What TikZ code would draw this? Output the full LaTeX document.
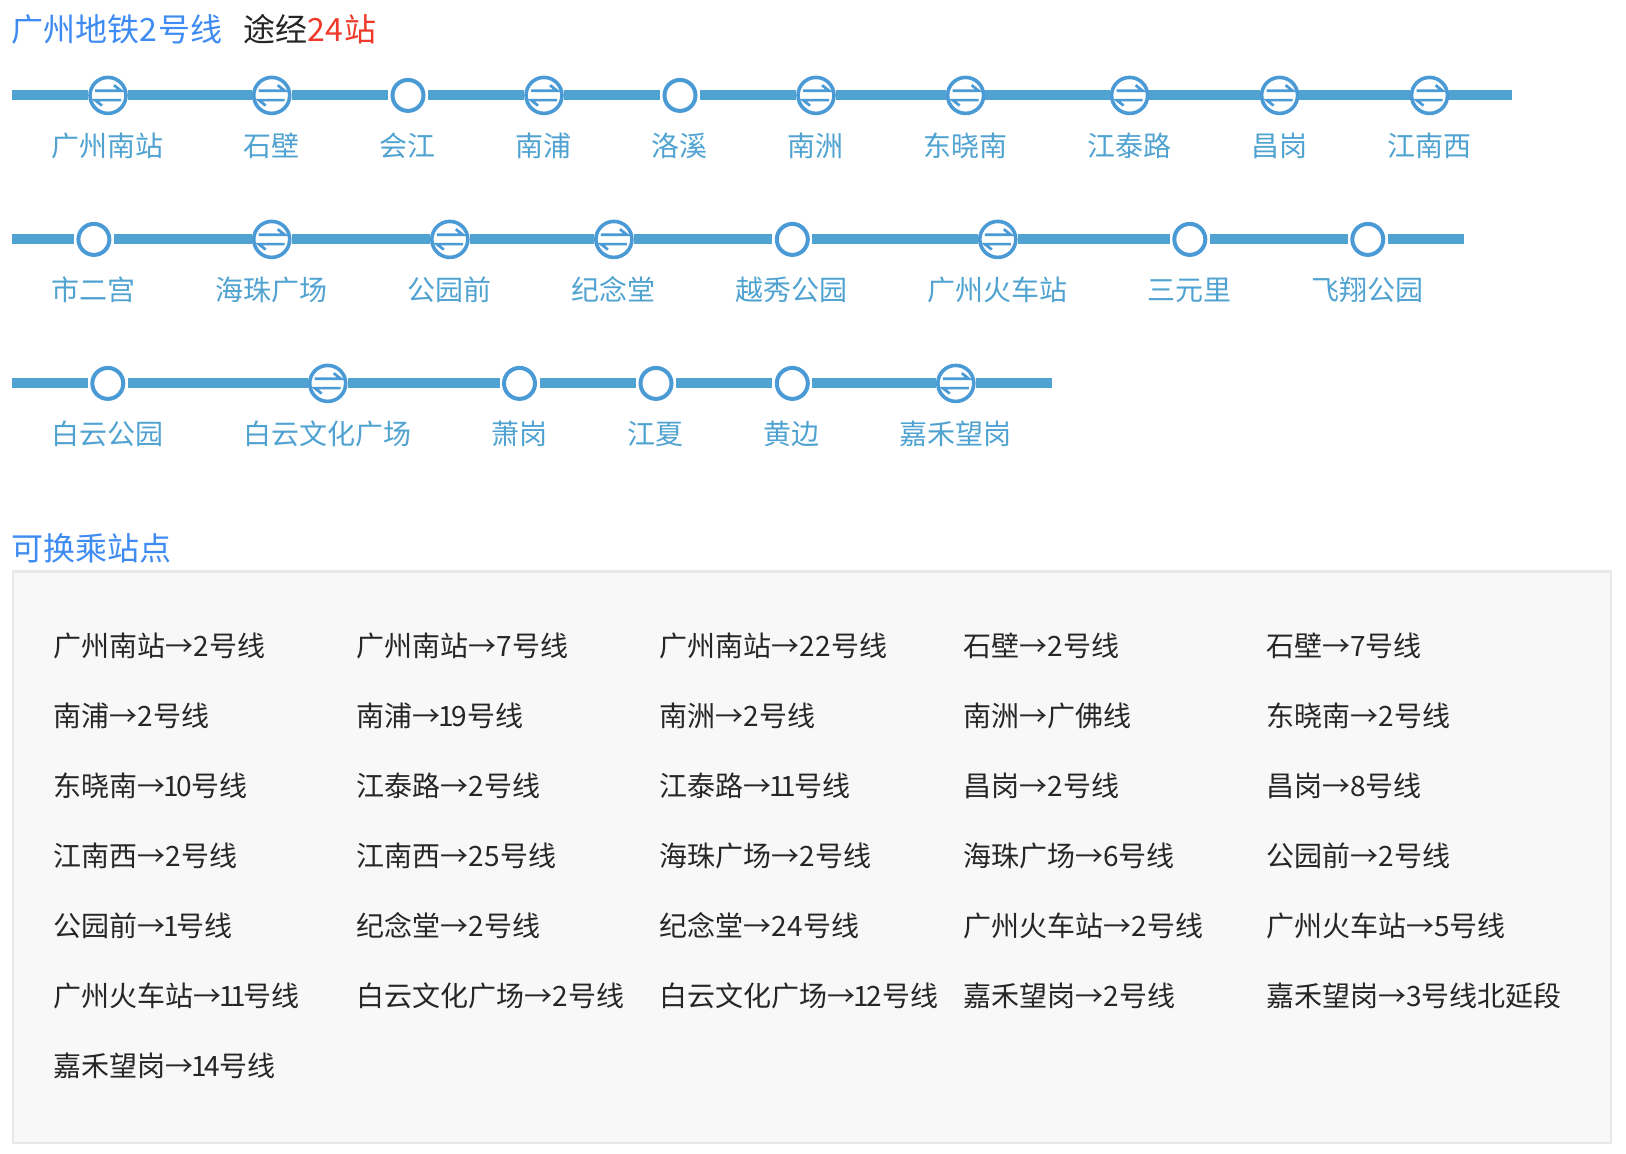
\documentclass[tikz,border=0pt]{standalone}
\usepackage{fontspec}
\setmainfont{Noto Sans CJK SC}
\definecolor{titleblue}{HTML}{3F8BF4}
\definecolor{alertred}{HTML}{EF3A2B}
\definecolor{inkdark}{HTML}{262626}
\definecolor{trackblue}{HTML}{50A3D1}
\definecolor{ringblue}{HTML}{4A9AD6}
\definecolor{panelfill}{HTML}{F8F8F8}
\definecolor{panelline}{HTML}{E8E8E8}
\newcommand\thinone{\kern-2.2pt 1\kern-2.2pt}
\tikzset{
  txt28/.style={inner sep=0pt,outer sep=0pt,text height=24.6pt,text depth=3.4pt,font=\fontsize{28}{28}\selectfont},
  headline/.style={inner sep=0pt,outer sep=0pt,anchor=west,text height=28.2pt,text depth=3.8pt,font=\fontsize{32}{32}\selectfont},
  stationlabel/.style={txt28,text=trackblue},
  changelabel/.style={txt28,text=inkdark,anchor=west},
  track/.style={draw=trackblue,line width=10pt,line cap=butt},
  plainstop/.style={circle,draw=ringblue,fill=white,line width=4pt,inner sep=0pt,minimum size=31pt,outer sep=4.5pt},
  changestop/.style={circle,draw=ringblue,fill=white,line width=3.6pt,inner sep=0pt,minimum size=36pt,outer sep=1.8pt,
    path picture={
      \draw[ringblue,line width=2.7pt,line join=miter]
        ([xshift=-13pt,yshift=4.7pt]path picture bounding box.center) -- ++(26pt,0pt) -- ++(-7pt,5.5pt)
        ([xshift=13pt,yshift=-4.7pt]path picture bounding box.center) -- ++(-26pt,0pt) -- ++(7pt,-5.5pt);
    }},
  panel/.style={draw=panelline,fill=panelfill,line width=2.5pt},
}
\begin{document}
\begin{tikzpicture}[x=1pt,y=-1pt]
\useasboundingbox (0,0) rectangle (1626,1154);
\fill[white] (0,0) rectangle (1626,1154);

\node[headline] (title) at (12,29) {\textcolor{titleblue}{广州地铁2\kern1pt 号线}};
\node[headline] (count) at (243,29) {\textcolor{inkdark}{途经}\textcolor{alertred}{2\kern1pt 4\kern1pt 站}};

% row 1
\coordinate (r1a) at (12,95.4);
\coordinate (r1b) at (1512,95.4);
\foreach \px/\lx/\nm/\kind [count=\i] in {108/107.5/广州南站/changestop,271.7/271.7/石壁/changestop,408/407.3/会江/plainstop,544/543.2/南浦/changestop,680/679/洛溪/plainstop,816/815.3/南洲/changestop,965.6/965.3/东晓南/changestop,1129.6/1129.3/江泰路/changestop,1279.6/1279.6/昌岗/changestop,1429.5/1429.3/江南西/changestop}{
  \node[\kind] (ra\i) at (\px,95.4) {};
  \node[stationlabel] (la\i) at (\lx,146) {\nm};
}
\draw[track] (r1a) -- (ra1);
\draw[track] (ra1) -- (ra2);
\draw[track] (ra2) -- (ra3);
\draw[track] (ra3) -- (ra4);
\draw[track] (ra4) -- (ra5);
\draw[track] (ra5) -- (ra6);
\draw[track] (ra6) -- (ra7);
\draw[track] (ra7) -- (ra8);
\draw[track] (ra8) -- (ra9);
\draw[track] (ra9) -- (ra10);
\draw[track] (ra10) -- (r1b);

% row 2
\coordinate (r2a) at (12,239.4);
\coordinate (r2b) at (1464,239.4);
\foreach \px/\lx/\nm/\kind [count=\i] in {93.9/93.6/市二宫/plainstop,271.7/271.4/海珠广场/changestop,449.8/449.5/公园前/changestop,613.9/613.7/纪念堂/changestop,792.3/791.5/越秀公园/plainstop,997.8/997.6/广州火车站/changestop,1189.8/1189.4/三元里/plainstop,1367.8/1367.3/飞翔公园/plainstop}{
  \node[\kind] (rb\i) at (\px,239.4) {};
  \node[stationlabel] (lb\i) at (\lx,290) {\nm};
}
\draw[track] (r2a) -- (rb1);
\draw[track] (rb1) -- (rb2);
\draw[track] (rb2) -- (rb3);
\draw[track] (rb3) -- (rb4);
\draw[track] (rb4) -- (rb5);
\draw[track] (rb5) -- (rb6);
\draw[track] (rb6) -- (rb7);
\draw[track] (rb7) -- (rb8);
\draw[track] (rb8) -- (r2b);

% row 3
\coordinate (r3a) at (12,383.4);
\coordinate (r3b) at (1051.5,383.4);
\foreach \px/\lx/\nm/\kind [count=\i] in {107.8/107.6/白云公园/plainstop,327.7/327.6/白云文化广场/changestop,519.5/519/萧岗/plainstop,656/655/江夏/plainstop,792.3/791.5/黄边/plainstop,955.8/955.3/嘉禾望岗/changestop}{
  \node[\kind] (rc\i) at (\px,383.4) {};
  \node[stationlabel] (lc\i) at (\lx,434) {\nm};
}
\draw[track] (r3a) -- (rc1);
\draw[track] (rc1) -- (rc2);
\draw[track] (rc2) -- (rc3);
\draw[track] (rc3) -- (rc4);
\draw[track] (rc4) -- (rc5);
\draw[track] (rc5) -- (rc6);
\draw[track] (rc6) -- (r3b);

% panel
\node[headline] (paneltitle) at (12,548) {\textcolor{titleblue}{可换乘站点}};
\draw[panel] (13,571.5) rectangle (1611,1143);

\foreach \py/\ta/\tb/\tc/\td/\te [count=\r] in {
  646/广州南站→2\kern.5pt 号线/广州南站→7号线/广州南站→2\kern.5pt 2\kern.5pt 号线/石壁→2\kern.5pt 号线/石壁→7号线,
  716/南浦→2\kern.5pt 号线/南浦→\thinone 9号线/南洲→2\kern.5pt 号线/南洲→广佛线/东晓南→2\kern.5pt 号线,
  786/东晓南→\thinone 0号线/江泰路→2\kern.5pt 号线/江泰路→\thinone\thinone 号线/昌岗→2\kern.5pt 号线/昌岗→8号线,
  856/江南西→2\kern.5pt 号线/江南西→2\kern.5pt 5\kern.5pt 号线/海珠广场→2\kern.5pt 号线/海珠广场→6号线/公园前→2\kern.5pt 号线,
  926/公园前→\thinone 号线/纪念堂→2\kern.5pt 号线/纪念堂→2\kern.5pt 4\kern.5pt 号线/广州火车站→2\kern.5pt 号线/广州火车站→5号线,
  996/广州火车站→\thinone\thinone 号线/白云文化广场→2\kern.5pt 号线/白云文化广场→\thinone 2\kern.5pt 号线/嘉禾望岗→2\kern.5pt 号线/嘉禾望岗→3号线北延段}{
  \node[changelabel] (c\r a) at (53.3,\py) {\ta};
  \node[changelabel] (c\r b) at (356.5,\py) {\tb};
  \node[changelabel] (c\r c) at (659.8,\py) {\tc};
  \node[changelabel] (c\r d) at (963,\py) {\td};
  \node[changelabel] (c\r e) at (1266,\py) {\te};
}
\node[changelabel] (c7a) at (53.3,1066) {嘉禾望岗→\thinone 4号线};
\end{tikzpicture}
\end{document}
